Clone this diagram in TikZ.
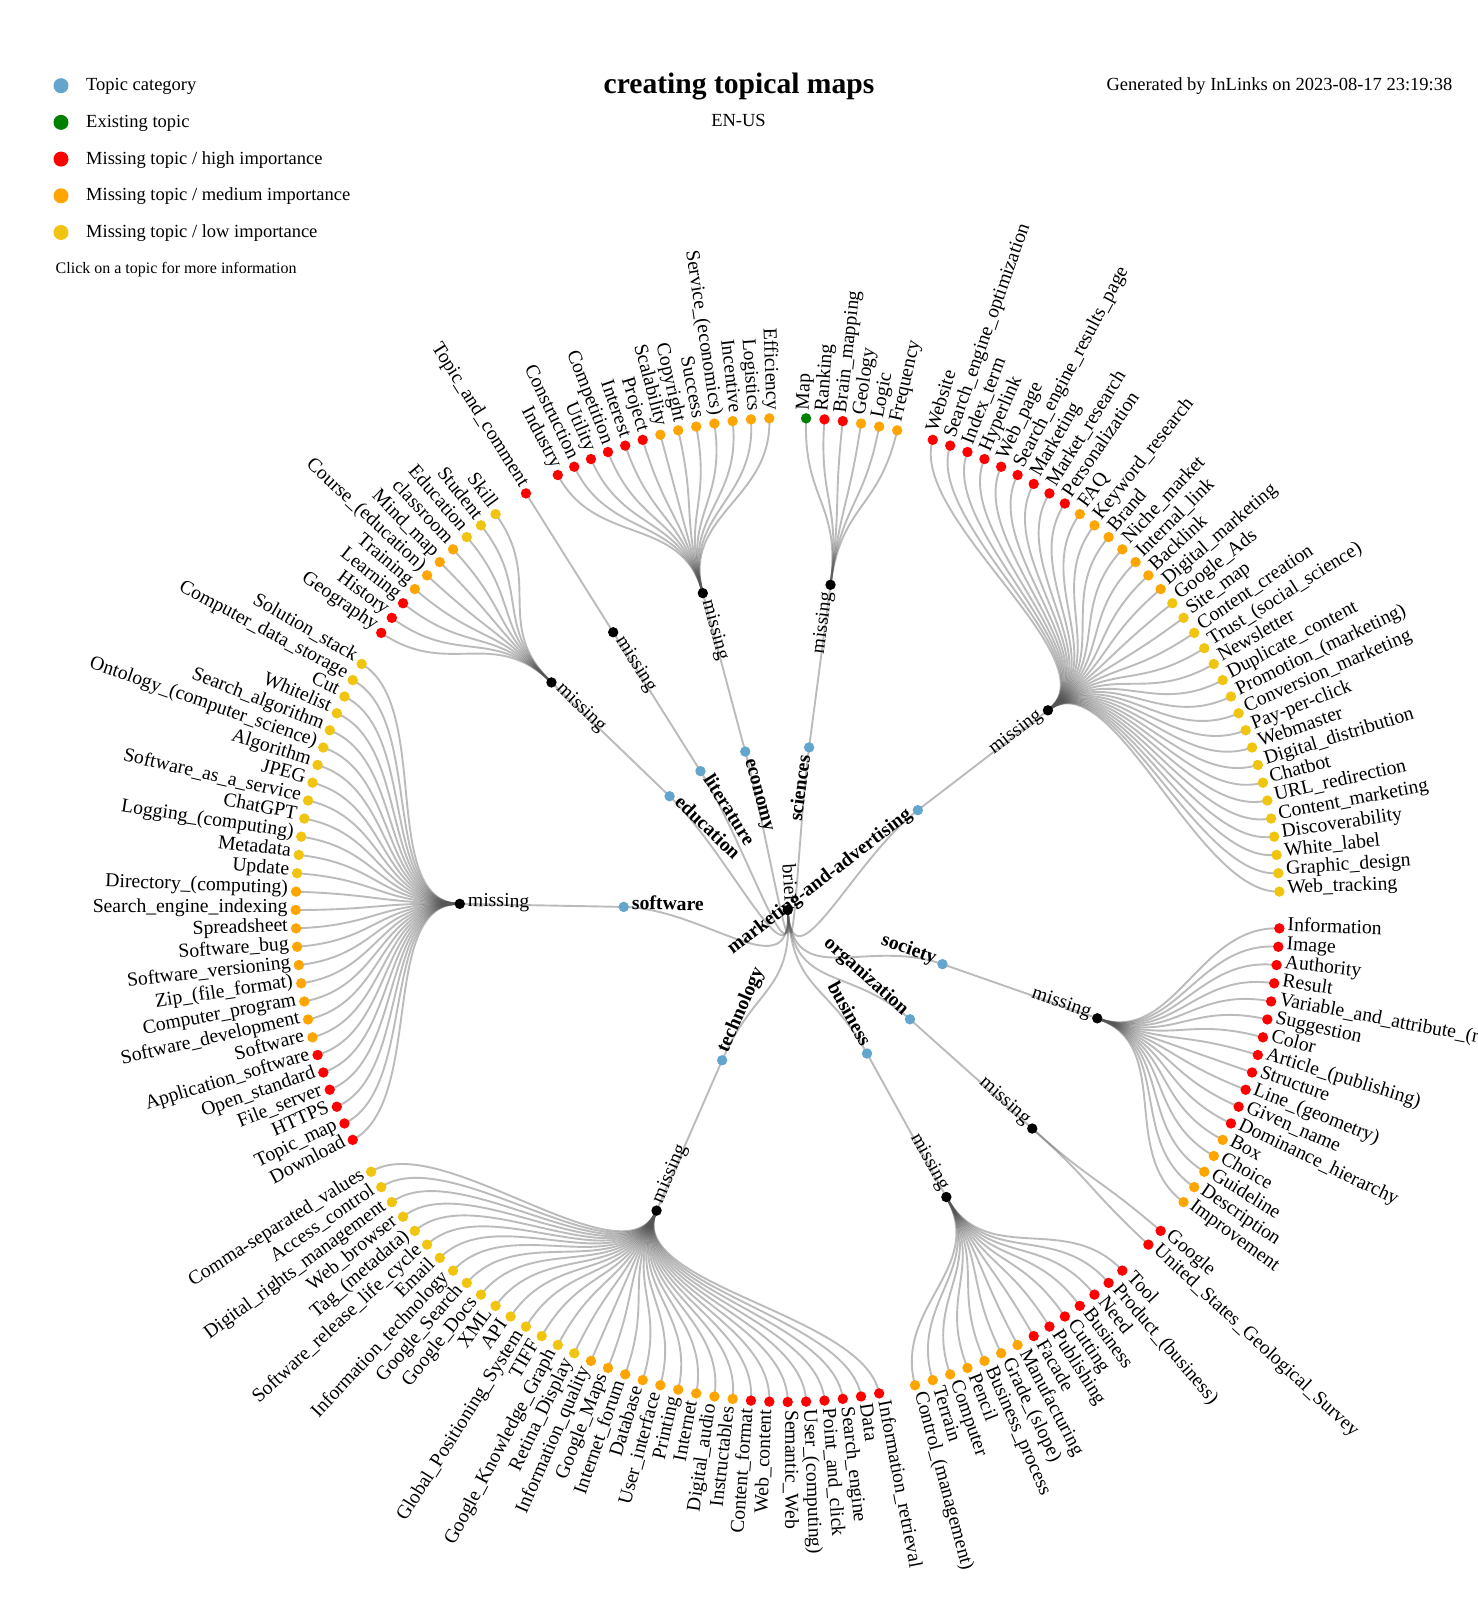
\documentclass[tikz,border=0pt]{standalone}
\usepackage{fontspec}
\setmainfont{Liberation Serif}
\usetikzlibrary{calc}
\pgfdeclarelayer{bg}
\pgfsetlayers{bg,main}
\definecolor{cB}{RGB}{100,165,205}
\definecolor{cG}{RGB}{0,128,0}
\definecolor{cR}{RGB}{255,0,0}
\definecolor{cO}{RGB}{255,165,0}
\definecolor{cY}{RGB}{241,196,15}
\definecolor{linkc}{RGB}{85,85,85}
\def\ua{2.142857143}
\tikzset{
  dot/.style={circle,inner sep=0pt,minimum size=10.4pt,fill=#1},
  legdot/.style={circle,inner sep=0pt,minimum size=15pt,fill=#1},
  link/.style={draw=linkc,draw opacity=0.4,line width=1.9pt},
  lbl/.style={font=\fontsize{19.7}{23}\selectfont,inner sep=0pt},
  catlbl/.style={font=\fontsize{19.7}{23}\selectfont\bfseries,inner sep=0pt},
  legtxt/.style={font=\fontsize{18.5}{22}\selectfont,inner sep=0pt},
}
\newcommand\tgroup[5]{%
  \pgfmathsetmacro\tc{#4*\ua}%
  \pgfmathsetmacro\pc{90-\tc}%
  \pgfmathsetmacro\pcr{\pc+180}%
  \node[dot=cB] (cat-#1) at ($(C)+(\pc:164)$) {};
  \node[dot=black] (mis-#1) at ($(C)+(\pc:328)$) {};
  \ifdim\tc pt<180pt
    \node[catlbl,rotate=\pc,anchor=mid east] (catl-#1) at ($(cat-#1)+(\pcr:8)$) {#2};
    \node[lbl,rotate=\pc,anchor=mid east] (misl-#1) at ($(mis-#1)+(\pcr:8)$) {missing};
  \else
    \node[catlbl,rotate=\pcr,anchor=mid west] (catl-#1) at ($(cat-#1)+(\pcr:8)$) {#2};
    \node[lbl,rotate=\pcr,anchor=mid west] (misl-#1) at ($(mis-#1)+(\pcr:8)$) {missing};
  \fi
  \begin{pgfonlayer}{bg}
    \draw[link] (root.center) .. controls ($(C)+(\proot:82)$) and ($(C)+(\pc:82)$) .. (cat-#1.center);
    \draw[link] (cat-#1.center) -- (mis-#1.center);
  \end{pgfonlayer}
  \foreach \nm/\cl [count=\i from 0] in {#5} {
    \pgfmathsetmacro\tl{(#3+\i)*\ua}
    \pgfmathsetmacro\pl{90-\tl}
    \pgfmathsetmacro\plr{\pl+180}
    \node[dot=c\cl] (leaf-#1-\i) at ($(C)+(\pl:492)$) {};
    \ifdim\tl pt<180pt
      \node[lbl,rotate=\pl,anchor=mid west] (leafl-#1-\i) at ($(leaf-#1-\i)+(\pl:8)$) {\nm};
    \else
      \node[lbl,rotate=\plr,anchor=mid east] (leafl-#1-\i) at ($(leaf-#1-\i)+(\pl:8)$) {\nm};
    \fi
    \begin{pgfonlayer}{bg}
      \draw[link] (mis-#1.center) .. controls ($(C)+(\pc:410)$) and ($(C)+(\pl:410)$) .. (leaf-#1-\i.center);
    \end{pgfonlayer}
  }
}
\begin{document}
\begin{tikzpicture}[x=1pt,y=1pt]
\begin{pgfonlayer}{bg}
  \fill[white] (0,0) rectangle (1477,1600);
\end{pgfonlayer}
\useasboundingbox (0,0) rectangle (1477,1600);
% header
\node[font=\fontsize{29.6}{34}\selectfont\bfseries,inner sep=0pt,anchor=base] (title) at (739,1506) {creating topical maps};
\node[legtxt,anchor=base] (lang) at (738.5,1473.5) {EN-US};
\node[legtxt,anchor=base east] (gen) at (1452.5,1509.3) {Generated by InLinks on 2023-08-17 23:19:38};
% legend
\node[legdot=cB] (lg1) at (61,1514.3) {};
\node[legdot=cG] (lg2) at (61,1477.6) {};
\node[legdot=cR] (lg3) at (61,1440.9) {};
\node[legdot=cO] (lg4) at (61,1404.2) {};
\node[legdot=cY] (lg5) at (61,1367.5) {};
\node[legtxt,anchor=base west] (lt1) at (86,1509.3) {Topic category};
\node[legtxt,anchor=base west] (lt2) at (86,1472.6) {Existing topic};
\node[legtxt,anchor=base west] (lt3) at (86,1435.9) {Missing topic / high importance};
\node[legtxt,anchor=base west] (lt4) at (86,1399.2) {Missing topic / medium importance};
\node[legtxt,anchor=base west] (lt5) at (86,1362.5) {Missing topic / low importance};
\node[font=\fontsize{16}{19}\selectfont,inner sep=0pt,anchor=base west] (click) at (55.5,1326.7) {Click on a topic for more information};
% tree
\coordinate (C) at (787.7,690);
\pgfmathsetmacro\troot{82.25*\ua}
\pgfmathsetmacro\proot{90-\troot}
\pgfmathsetmacro\prootr{\proot+180}
\node[dot=black] (root) at (C) {};
\node[lbl,rotate=\proot,anchor=mid east] (rootl) at ($(root)+(\prootr:8)$) {brief};
\tgroup{sci}{sciences}{1}{3.5}{Map/G,Ranking/R,Brain\_mapping/R,Geology/O,Logic/O,Frequency/O}
\tgroup{mkt}{marketing-and-advertising}{8}{24.5}{Website/R,Search\_engine\_optimization/R,Index\_term/R,Hyperlink/R,Web\_page/R,Search\_engine\_results\_page/R,Marketing/R,Market\_research/R,Personalization/R,FAQ/O,Keyword\_research/O,Brand/O,Niche\_market/O,Internal\_link/O,Backlink/O,Digital\_marketing/O,Google\_Ads/Y,Site\_map/Y,Content\_creation/Y,Trust\_(social\_science)/Y,Newsletter/Y,Duplicate\_content/Y,Promotion\_(marketing)/Y,Conversion\_marketing/Y,Pay-per-click/Y,Webmaster/Y,Digital\_distribution/Y,Chatbot/Y,URL\_redirection/Y,Content\_marketing/Y,Discoverability/Y,White\_label/Y,Graphic\_design/Y,Web\_tracking/Y}
\tgroup{soc}{society}{43}{51}{Information/R,Image/R,Authority/R,Result/R,Variable\_and\_attribute\_(r/R,Suggestion/R,Color/R,Article\_(publishing)/R,Structure/R,Line\_(geometry)/R,Given\_name/R,Dominance\_hierarchy/R,Box/O,Choice/O,Guideline/O,Description/O,Improvement/O}
\tgroup{org}{organization}{61}{61.5}{Google/R,United\_States\_Geological\_Survey/R}
\tgroup{bus}{business}{64}{70.5}{Tool/R,Product\_(business)/R,Need/R,Business/R,Cutting/R,Publishing/R,Facade/R,Manufacturing/O,Grade\_(slope)/O,Business\_process/O,Pencil/O,Computer/O,Terrain/O,Control\_(management)/O}
\tgroup{tec}{technology}{79}{95}{Information\_retrieval/R,Data/R,Search\_engine/R,Point\_and\_click/R,User\_(computing)/R,Semantic\_Web/R,Web\_content/R,Content\_format/R,Instructables/O,Digital\_audio/O,Internet/O,Printing/O,User\_interface/O,Database/O,Internet\_forum/O,Google\_Maps/O,Information\_quality/O,Retina\_Display/Y,Google\_Knowledge\_Graph/Y,TIFF/Y,Global\_Positioning\_System/Y,API/Y,XML/Y,Google\_Docs/Y,Google\_Search/Y,Information\_technology/Y,Email/Y,Software\_release\_life\_cycle/Y,Tag\_(metadata)/Y,Web\_browser/Y,Digital\_rights\_management/Y,Access\_control/Y,Comma-separated\_values/Y}
\tgroup{sw}{software}{113}{126.5}{Download/R,Topic\_map/R,HTTPS/R,File\_server/R,Open\_standard/R,Application\_software/R,Software/O,Software\_development/O,Computer\_program/O,Zip\_(file\_format)/O,Software\_versioning/O,Software\_bug/O,Spreadsheet/O,Search\_engine\_indexing/O,Directory\_(computing)/O,Update/Y,Metadata/Y,Logging\_(computing)/Y,ChatGPT/Y,Software\_as\_a\_service/Y,JPEG/Y,Algorithm/Y,Ontology\_(computer\_science)/Y,Search\_algorithm/Y,Whitelist/Y,Cut/Y,Computer\_data\_storage/Y,Solution\_stack/Y}
\tgroup{edu}{education}{142}{146.5}{Geography/R,History/R,Learning/R,Training/O,Course\_(education)/O,Mind\_map/O,classroom/O,Education/Y,Student/Y,Skill/Y}
\tgroup{lit}{literature}{153}{153}{Topic\_and\_comment/R}
\tgroup{eco}{economy}{155}{161}{Industry/R,Construction/R,Utility/R,Competition/R,Interest/R,Project/R,Scalability/O,Copyright/O,Success/O,Service\_(economics)/O,Incentive/O,Logistics/O,Efficiency/O}
\end{tikzpicture}
\end{document}
